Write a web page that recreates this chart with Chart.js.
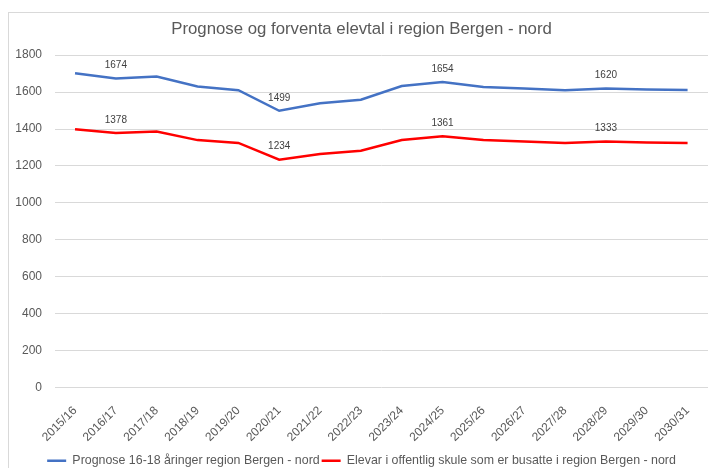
<!DOCTYPE html>
<html>
<head>
<meta charset="utf-8">
<script src="https://cdn.jsdelivr.net/npm/chart.js@4.4.1/dist/chart.umd.min.js"></script>
<style>
  html, body { margin: 0; padding: 0; background: #fff; }
  #wrap { width: 709px; height: 468px; position: relative; }
</style>
</head>
<body>
<div id="wrap"><canvas id="chart"></canvas></div>
<script>
// school years on the x axis
const years = ["2015/16", "2016/17", "2017/18", "2018/19", "2019/20", "2020/21", "2021/22", "2022/23",
  "2023/24", "2024/25", "2025/26", "2026/27", "2027/28", "2028/29", "2029/30", "2030/31"];

// 16-18 year olds forecast
const prognose = [1702, 1674, 1684, 1630, 1610, 1499, 1539, 1559, 1633, 1654, 1628, 1620, 1610, 1620, 1614, 1612];
// pupils in public school living in the region
const elevar = [1399, 1378, 1387, 1340, 1325, 1234, 1265, 1283, 1341, 1361, 1340, 1332, 1325, 1333, 1327, 1325];

// which points get a value label
const labelledPoints = [1, 5, 9, 13];

const textColor = "#595959";
const gridColor = "#D9D9D9";
const font = "'Liberation Sans', Arial, sans-serif";

const frame = {
  id: "frame",
  beforeDraw(chart) {
    const ctx = chart.ctx;
    ctx.save();
    ctx.fillStyle = "#fff";
    ctx.fillRect(0, 0, chart.width, chart.height);
    ctx.strokeStyle = gridColor;
    ctx.lineWidth = 1;
    ctx.strokeRect(8.5, 12.5, chart.width, chart.height);
    ctx.restore();
  }
};

const valueLabels = {
  id: "valueLabels",
  afterDatasetsDraw(chart) {
    const ctx = chart.ctx;
    ctx.save();
    ctx.font = "10px " + font;
    ctx.fillStyle = "#404040";
    ctx.textAlign = "center";
    ctx.textBaseline = "middle";
    chart.data.datasets.forEach((ds, di) => {
      const meta = chart.getDatasetMeta(di);
      labelledPoints.forEach((i) => {
        const p = meta.data[i];
        ctx.fillText(ds.data[i], p.x, p.y - 13);
      });
    });
    ctx.restore();
  }
};

new Chart(document.getElementById("chart"), {
  type: "line",
  data: {
    labels: years,
    datasets: [
      {
        label: "Prognose 16-18 åringer region Bergen - nord",
        data: prognose,
        borderColor: "#4472C4",
        backgroundColor: "#4472C4",
        borderWidth: 2.5,
        pointRadius: 0,
        tension: 0
      },
      {
        label: "Elevar i offentlig skule som er busatte i region Bergen - nord",
        data: elevar,
        borderColor: "#FF0000",
        backgroundColor: "#FF0000",
        borderWidth: 2.5,
        pointRadius: 0,
        tension: 0
      }
    ]
  },
  options: {
    responsive: true,
    maintainAspectRatio: false,
    animation: false,
    layout: { padding: { top: 12, left: 15, right: 1, bottom: -9 } },
    plugins: {
      title: {
        display: true,
        text: "Prognose og forventa elevtal i region Bergen - nord",
        color: textColor,
        font: { family: font, size: 16.8, weight: "normal" },
        padding: { top: 7, bottom: 16 }
      },
      legend: {
        position: "bottom",
        labels: {
          color: textColor,
          font: { family: font, size: 12.4 },
          usePointStyle: true,
          pointStyle: "line",
          pointStyleWidth: 19,
          padding: 2
        }
      },
      tooltip: { enabled: false }
    },
    scales: {
      x: {
        offset: true,
        grid: { display: false },
        border: { display: false },
        afterFit(s) { s.height = 65; },
        ticks: {
          color: textColor,
          font: { family: font, size: 12 },
          minRotation: 45,
          maxRotation: 45,
          padding: 8,
          autoSkip: false
        }
      },
      y: {
        min: 0,
        max: 1800,
        afterFit(s) { s.width = 39.6; },
        border: { display: false },
        grid: { color: gridColor, drawTicks: false },
        ticks: {
          stepSize: 200,
          color: textColor,
          font: { family: font, size: 12 },
          padding: 12.6,
          callback: (v) => String(v)
        }
      }
    }
  },
  plugins: [frame, valueLabels]
});
</script>
</body>
</html>
